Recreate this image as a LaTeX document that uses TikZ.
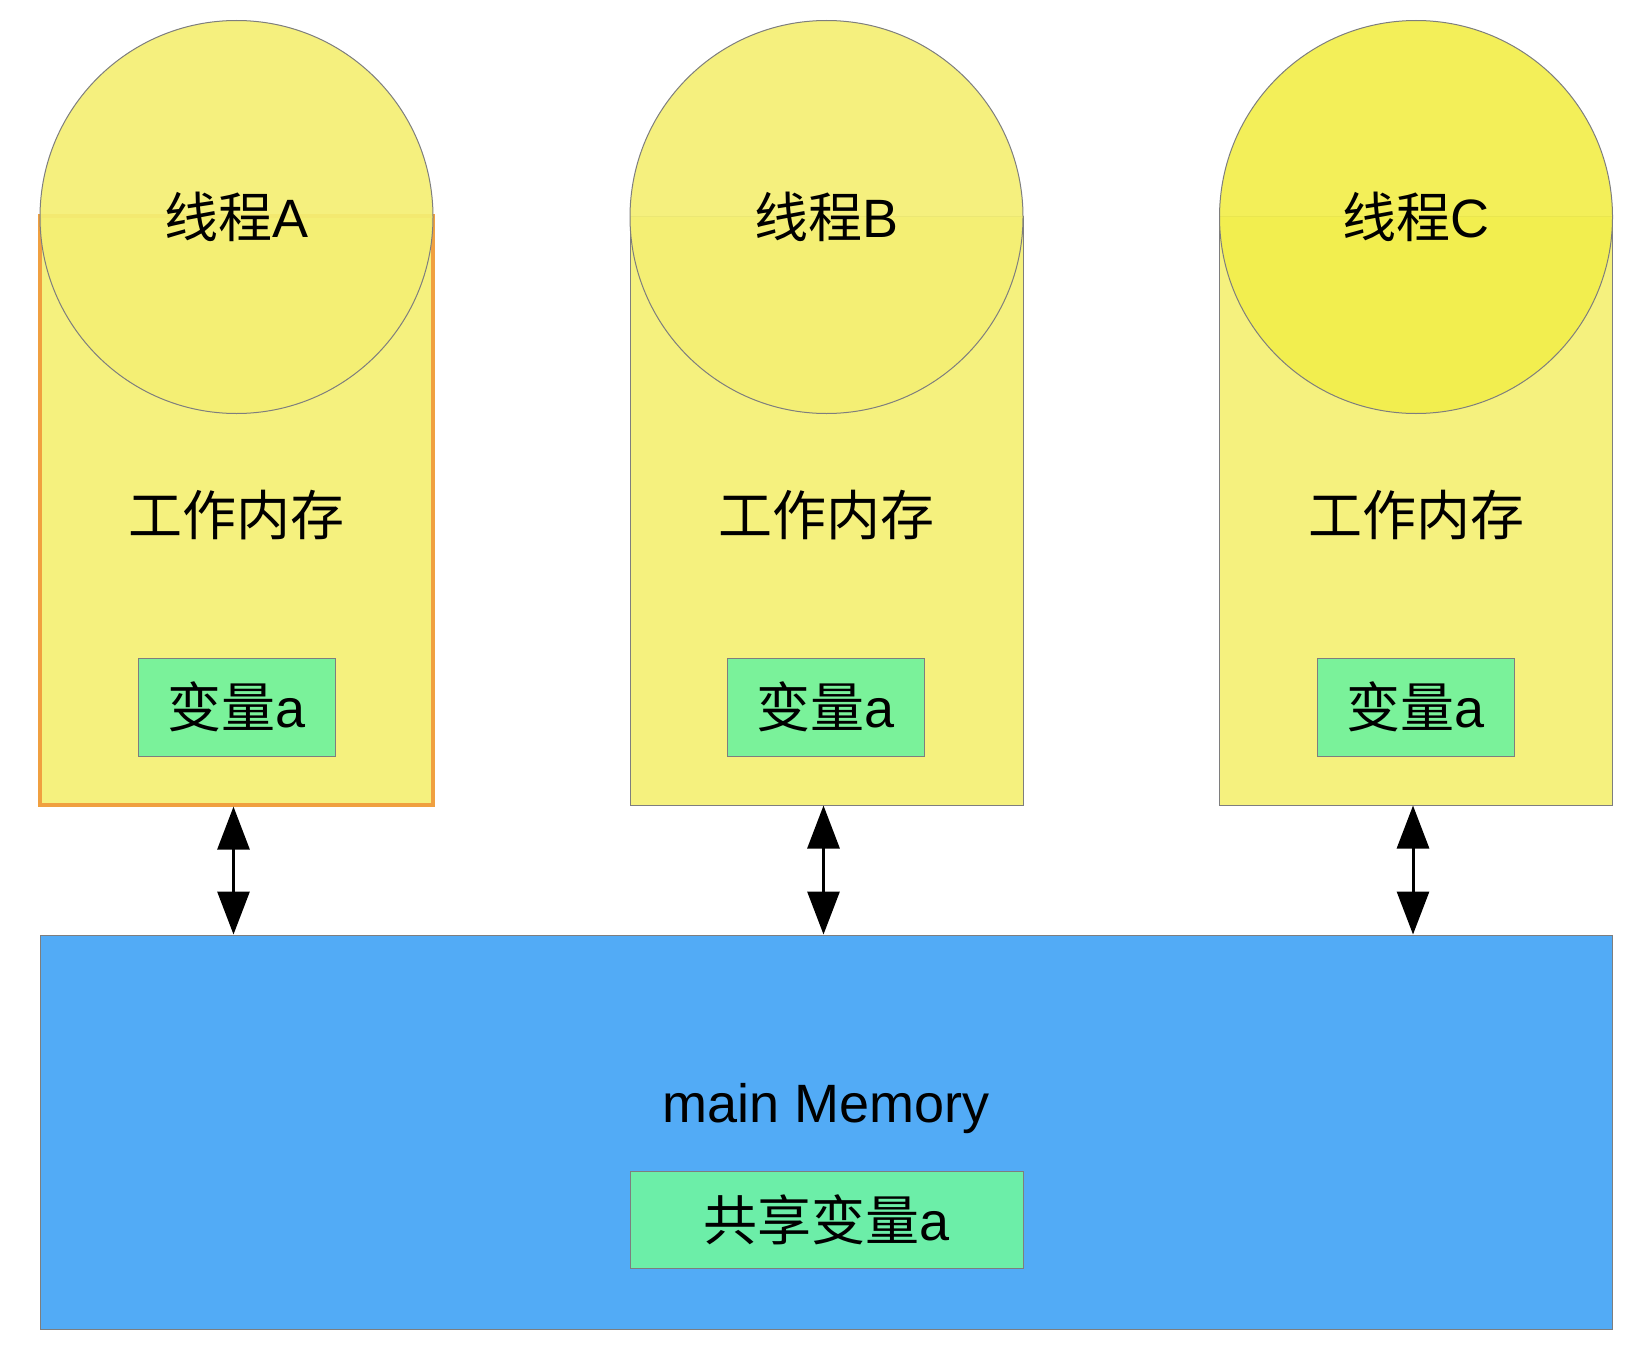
\documentclass[tikz,border=0pt]{standalone}
\usepackage{fontspec}
\setmainfont{Liberation Sans}
\newfontfamily\cjk{Noto Sans CJK SC}
\usepackage{tikz}
\usetikzlibrary{arrows.meta}

\definecolor{wmyellow}{HTML}{F5F17E}
\definecolor{thyellow}{HTML}{F4EF74}
\definecolor{thbright}{HTML}{F2EE4C}
\definecolor{vargreen}{HTML}{7AF29A}
\definecolor{shgreen}{HTML}{6CEEA8}
\definecolor{memblue}{HTML}{52ABF6}
\definecolor{edgegray}{HTML}{7E7E7E}
\definecolor{edgeorange}{HTML}{F0A040}

\begin{document}
\begin{tikzpicture}[x=0.5pt,y=-0.5pt,
  font=\fontsize{27}{32}\selectfont,
  work/.style={rectangle, fill=wmyellow, draw=edgegray, line width=0.5pt,
    minimum width=196.5pt, minimum height=294.5pt, inner sep=0pt},
  thread/.style={circle, fill=thyellow, fill opacity=0.93, text opacity=1,
    draw=edgegray, line width=0.5pt, minimum size=196.5pt, inner sep=0pt},
  var/.style={rectangle, fill=vargreen, draw=edgegray, line width=0.5pt,
    minimum width=98.5pt, minimum height=49pt, inner sep=0pt}]
  \useasboundingbox (0,0) rectangle (1636,1354);

  % working memories
  \node[work, draw=edgeorange, line width=1.6pt] (wmA) at (236.5,510.5) {};
  \node[work] (wmB) at (826.5,510.5) {};
  \node[work] (wmC) at (1416,510.5) {};

  % threads
  \node[thread] (thA) at (236.5,217) {{\cjk 线程}A};
  \node[thread] (thB) at (826.5,217) {{\cjk 线程}B};
  \node[thread, fill=thbright] (thC) at (1416,217) {{\cjk 线程}C};

  \node (lblA) at (236.5,515) {\cjk 工作内存};
  \node (lblB) at (826.5,515) {\cjk 工作内存};
  \node (lblC) at (1416,515) {\cjk 工作内存};

  \node[var] (varA) at (236.5,707) {{\cjk 变量}a};
  \node[var] (varB) at (825.5,707) {{\cjk 变量}a};
  \node[var] (varC) at (1415.5,707) {{\cjk 变量}a};

  % main memory
  \node[rectangle, fill=memblue, draw=edgegray, line width=0.5pt,
    minimum width=786pt, minimum height=197pt, inner sep=0pt] (mem) at (826,1132) {};
  \node[anchor=base] (memlbl) at (826,1122) {main Memory};
  \node[var, fill=shgreen, minimum width=196.5pt, minimum height=48.5pt]
    (shvar) at (826.5,1219.5) {{\cjk 共享变量}a};

  \path[{Triangle[width=16pt,length=21.5pt]}-{Triangle[width=16pt,length=21.5pt]},
    line width=1.5pt]
  ([xshift=-1.5pt]wmA.south) edge ([xshift=-1.5pt]wmA.south |- mem.north)
  ([xshift=-1.5pt]wmB.south) edge ([xshift=-1.5pt]wmB.south |- mem.north)
  ([xshift=-1.5pt]wmC.south) edge ([xshift=-1.5pt]wmC.south |- mem.north);
\end{tikzpicture}
\end{document}
